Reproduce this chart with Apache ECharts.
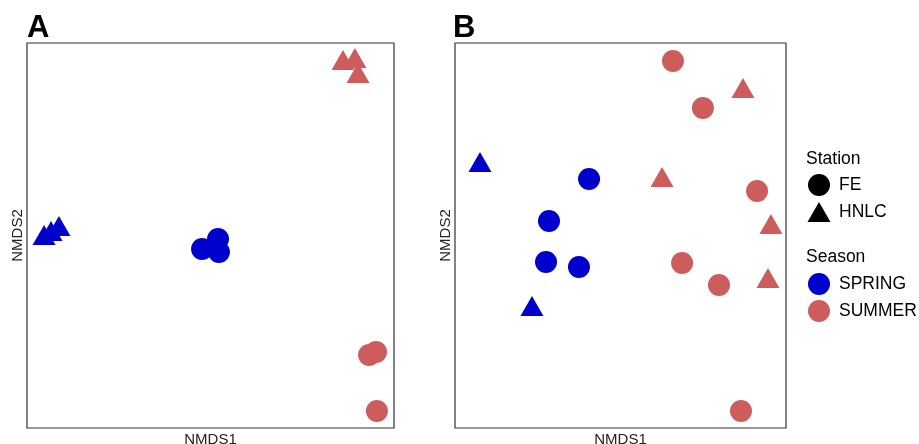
<!DOCTYPE html>
<html>
<head>
<meta charset="utf-8">
<script src="https://cdn.jsdelivr.net/npm/echarts@6/dist/echarts.min.js"></script>
<style>html,body{margin:0;padding:0;background:#fff}#c{width:919px;height:444px}</style>
</head>
<body>
<div id="c"></div>
<script>
// NMDS coordinates: [NMDS1, NMDS2]
var A_FE_SPRING   = [[-0.046,-0.070],[0.041,-0.018],[0.046,-0.086]];
var A_HNLC_SPRING = [[-0.907,0.003],[-0.869,0.023],[-0.826,0.049]];
var A_FE_SUMMER   = [[0.864,-0.621],[0.902,-0.605],[0.907,-0.912]];
var A_HNLC_SUMMER = [[0.722,0.912],[0.787,0.922],[0.804,0.844]];

var B_FE_SPRING   = [[-0.190,0.294],[-0.432,0.075],[-0.450,-0.138],[-0.251,-0.164]];
var B_HNLC_SPRING = [[-0.849,0.382],[-0.535,-0.366]];
var B_FE_SUMMER   = [[0.317,0.906],[0.498,0.662],[0.825,0.231],[0.372,-0.143],[0.595,-0.257],[0.728,-0.912]];
var B_HNLC_SUMMER = [[0.740,0.766],[0.251,0.304],[0.909,0.060],[0.891,-0.221]];

var panelLabels = ['A','B'];
var stationLabels = ['FE','HNLC'];
var seasonLabels = ['SPRING','SUMMER'];

var BLUE = '#0000CD', RED = '#CD5C5C';
var FONT = 'Liberation Sans, Arial, sans-serif';

function axisX(idx){
  return {gridIndex: idx, type:'value', min:-1, max:1, name:'NMDS1', nameLocation:'middle', nameGap:4,
    nameTextStyle:{fontFamily:FONT, fontSize:15, color:'#222'},
    axisLine:{show:false}, axisTick:{show:false}, axisLabel:{show:false}, splitLine:{show:false}};
}
function axisY(idx){
  return {gridIndex: idx, type:'value', min:-1, max:1, name:'NMDS2', nameLocation:'middle', nameGap:2,
    nameTextStyle:{fontFamily:FONT, fontSize:15, color:'#222'},
    axisLine:{show:false}, axisTick:{show:false}, axisLabel:{show:false}, splitLine:{show:false}};
}
function ser(idx, data, shape, color){
  return {type:'scatter', xAxisIndex: idx, yAxisIndex: idx, data: data,
    symbol: shape === 'tri' ? 'triangle' : 'circle',
    symbolSize: shape === 'tri' ? [23,20] : 22,
    itemStyle:{color: color, opacity:1}, emphasis:{disabled:true}, silent:true};
}

var legendX = 819;
var graphic = [
  {type:'text', left:27, top:13, style:{text:panelLabels[0], font:'bold 31px '+FONT, fill:'#000'}},
  {type:'text', left:453, top:13, style:{text:panelLabels[1], font:'bold 31px '+FONT, fill:'#000'}},
  {type:'text', left:806, top:150, style:{text:'Station', font:'17.5px '+FONT, fill:'#000'}},
  {type:'circle', shape:{cx:legendX, cy:185, r:11}, style:{fill:'#000'}},
  {type:'text', left:839, top:176, style:{text:stationLabels[0], font:'17.5px '+FONT, fill:'#000'}},
  {type:'polygon', shape:{points:[[legendX,202],[legendX-11.5,222],[legendX+11.5,222]]}, style:{fill:'#000'}},
  {type:'text', left:839, top:203, style:{text:stationLabels[1], font:'17.5px '+FONT, fill:'#000'}},
  {type:'text', left:806, top:248, style:{text:'Season', font:'17.5px '+FONT, fill:'#000'}},
  {type:'circle', shape:{cx:legendX, cy:284, r:11}, style:{fill:BLUE}},
  {type:'text', left:839, top:275, style:{text:seasonLabels[0], font:'17.5px '+FONT, fill:'#000'}},
  {type:'circle', shape:{cx:legendX, cy:311, r:11}, style:{fill:RED}},
  {type:'text', left:839, top:302, style:{text:seasonLabels[1], font:'17.5px '+FONT, fill:'#000'}}
];

var chart = echarts.init(document.getElementById('c'), null, {renderer:'canvas'});
chart.setOption({
  animation:false,
  backgroundColor:'#fff',
  grid:[
    {left:27, right:525, top:43, bottom:16, show:true, borderColor:'#333', borderWidth:1.2, backgroundColor:'transparent', containLabel:false, outerBoundsMode:'none'},
    {left:455, right:133, top:43, bottom:16, show:true, borderColor:'#333', borderWidth:1.2, backgroundColor:'transparent', containLabel:false, outerBoundsMode:'none'}
  ],
  xAxis:[axisX(0), axisX(1)],
  yAxis:[axisY(0), axisY(1)],
  series:[
    ser(0, A_FE_SPRING, 'circle', BLUE),
    ser(0, A_HNLC_SPRING, 'tri', BLUE),
    ser(0, A_FE_SUMMER, 'circle', RED),
    ser(0, A_HNLC_SUMMER, 'tri', RED),
    ser(1, B_FE_SPRING, 'circle', BLUE),
    ser(1, B_HNLC_SPRING, 'tri', BLUE),
    ser(1, B_FE_SUMMER, 'circle', RED),
    ser(1, B_HNLC_SUMMER, 'tri', RED)
  ],
  graphic: graphic
});
</script>
</body>
</html>
